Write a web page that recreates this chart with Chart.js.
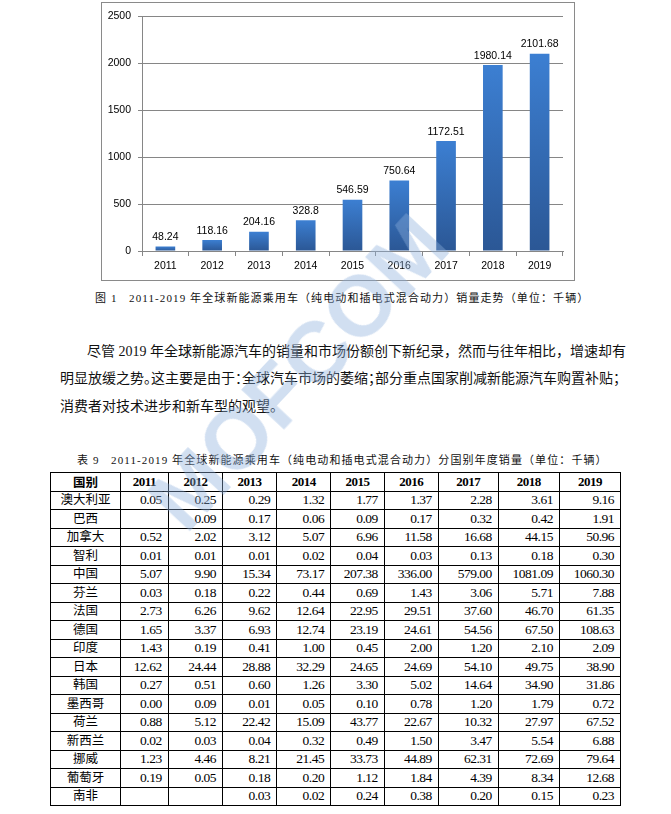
<!DOCTYPE html>
<html lang="zh-CN">
<head>
<meta charset="utf-8">
<title>全球新能源乘用车销量</title>
<script src="https://cdn.jsdelivr.net/npm/chart.js@4.4.1/dist/chart.umd.min.js"></script>
<style>
body {
  margin: 0;
  background: #fff;
  width: 671px;
  height: 814px;
  position: relative;
  overflow: hidden;
  font-family: "Liberation Serif", "Noto Sans CJK SC", serif;
  color: #000;
}
#chartBox {
  position: absolute;
  left: 101px;
  top: 2px;
  width: 474px;
  height: 279px;
  border: 1px solid #8a8a8a;
  box-sizing: border-box;
}
.cap {
  position: absolute;
  font-size: 11px;
  letter-spacing: 1.1px;
  white-space: nowrap;
  line-height: 14px;
  color: #111;
}
#cap1 { left: 95px; top: 291px; }
#cap2 { left: 77px; top: 453px; }
#para {
  position: absolute;
  left: 60px;
  top: 338px;
  width: 556px;
  font-size: 14px;
  line-height: 27.3px;
  color: #111;
}
#para div { text-align: justify; text-align-last: justify; white-space: nowrap; }
#para div.last { text-align-last: left; }
#para .l1 { padding-left: 27px; }
.h { font-feature-settings: "halt"; }
#tbl {
  position: absolute;
  left: 50px;
  top: 472px;
  border-collapse: collapse;
  table-layout: fixed;
  width: 571px;
}
#tbl tr { height: 18.5px; }
#tbl td, #tbl th {
  border: 1px solid #000;
  padding: 0 6px 0 0;
  text-align: right;
  font-size: 13.5px;
  letter-spacing: -0.5px;
  line-height: 16px;
  white-space: nowrap;
}
#tbl th { text-align: center; padding: 0; font-weight: bold; font-size: 13px; }
#tbl td.name { text-align: center; padding: 0; font-size: 12.5px; letter-spacing: 0; }
#mark {
  position: absolute;
  left: 298px;
  top: 372px;
  font: bold 86px "Liberation Sans", sans-serif;
  color: rgba(140, 175, 220, 0.4);
  transform: translate(-50%, -50%) rotate(-47deg);
  white-space: nowrap;
  pointer-events: none;
  z-index: 5;
}
</style>
</head>
<body>
<div id="chartBox"><canvas id="grafico"></canvas></div>
<div class="cap" id="cap1">图 1&nbsp;&nbsp;&nbsp;2011-2019 年全球新能源乘用车（纯电动和插电式混合动力）销量走势（单位：千辆）</div>
<div id="para">
  <div class="l1">尽管 2019 年全球新能源汽车的销量和市场份额创下新纪录，然而与往年相比，增速却有</div>
  <div>明显放缓之势<span class="h">。</span>这主要是由于<span class="h">：</span>全球汽车市场的萎缩<span class="h">；</span>部分重点国家削减新能源汽车购置补贴<span class="h">；</span></div>
  <div class="last">消费者对技术进步和新车型的观望。</div>
</div>
<div class="cap" id="cap2">表 9&nbsp;&nbsp;&nbsp;2011-2019 年全球新能源乘用车（纯电动和插电式混合动力）分国别年度销量（单位：千辆）</div>
<table id="tbl">
  <colgroup id="cols"></colgroup>
  <thead><tr id="cabecalho"></tr></thead>
  <tbody id="corpo"></tbody>
</table>
<div id="mark">MOFCOM</div>

<script>
// Anos e vendas globais (mil unidades)
const anos = ['2011', '2012', '2013', '2014', '2015', '2016', '2017', '2018', '2019'];
const vendas = [48.24, 118.16, 204.16, 328.8, 546.59, 750.64, 1172.51, 1980.14, 2101.68];
const ticksY = [0, 500, 1000, 1500, 2000, 2500];

// Tabela por país
const paises = ['澳大利亚', '巴西', '加拿大', '智利', '中国', '芬兰', '法国', '德国', '印度',
  '日本', '韩国', '墨西哥', '荷兰', '新西兰', '挪威', '葡萄牙', '南非'];
const australia = [0.05, 0.25, 0.29, 1.32, 1.77, 1.37, 2.28, 3.61, 9.16];
const brasil = [null, 0.09, 0.17, 0.06, 0.09, 0.17, 0.32, 0.42, 1.91];
const canada = [0.52, 2.02, 3.12, 5.07, 6.96, 11.58, 16.68, 44.15, 50.96];
const chile = [0.01, 0.01, 0.01, 0.02, 0.04, 0.03, 0.13, 0.18, 0.30];
const china = [5.07, 9.90, 15.34, 73.17, 207.38, 336.00, 579.00, 1081.09, 1060.30];
const finlandia = [0.03, 0.18, 0.22, 0.44, 0.69, 1.43, 3.06, 5.71, 7.88];
const franca = [2.73, 6.26, 9.62, 12.64, 22.95, 29.51, 37.60, 46.70, 61.35];
const alemanha = [1.65, 3.37, 6.93, 12.74, 23.19, 24.61, 54.56, 67.50, 108.63];
const india = [1.43, 0.19, 0.41, 1.00, 0.45, 2.00, 1.20, 2.10, 2.09];
const japao = [12.62, 24.44, 28.88, 32.29, 24.65, 24.69, 54.10, 49.75, 38.90];
const coreia = [0.27, 0.51, 0.60, 1.26, 3.30, 5.02, 14.64, 34.90, 31.86];
const mexico = [0.00, 0.09, 0.01, 0.05, 0.10, 0.78, 1.20, 1.79, 0.72];
const holanda = [0.88, 5.12, 22.42, 15.09, 43.77, 22.67, 10.32, 27.97, 67.52];
const novaZelandia = [0.02, 0.03, 0.04, 0.32, 0.49, 1.50, 3.47, 5.54, 6.88];
const noruega = [1.23, 4.46, 8.21, 21.45, 33.73, 44.89, 62.31, 72.69, 79.64];
const portugal = [0.19, 0.05, 0.18, 0.20, 1.12, 1.84, 4.39, 8.34, 12.68];
const africaSul = [null, null, 0.03, 0.02, 0.24, 0.38, 0.20, 0.15, 0.23];
const linhas = [australia, brasil, canada, chile, china, finlandia, franca, alemanha, india,
  japao, coreia, mexico, holanda, novaZelandia, noruega, portugal, africaSul];

// Montar a tabela
function montarTabela() {
  const larguras = [70, 47.6, 54.4, 54, 54, 53.6, 54, 60, 61, 61];
  document.getElementById('cols').innerHTML = larguras.map(w => `<col style="width:${w}px">`).join('');
  document.getElementById('cabecalho').innerHTML =
    '<th style="font-family:\'Noto Sans CJK SC\';font-size:12.5px;letter-spacing:0">国别</th>' +
    anos.map(a => `<th>${a}</th>`).join('');
  document.getElementById('corpo').innerHTML = paises.map((p, i) =>
    `<tr><td class="name">${p}</td>` +
    linhas[i].map(v => `<td>${v === null ? '' : v.toFixed(2)}</td>`).join('') + '</tr>'
  ).join('');
}

// Rótulos de valor acima das barras
const rotulos = {
  id: 'rotulos',
  afterDatasetsDraw(chart) {
    const ctx = chart.ctx;
    const meta = chart.getDatasetMeta(0);
    ctx.save();
    ctx.font = '10.5px "Liberation Sans"';
    ctx.fillStyle = '#000';
    ctx.textAlign = 'center';
    ctx.textBaseline = 'bottom';
    meta.data.forEach((bar, i) => {
      ctx.fillText(String(vendas[i]), bar.x, bar.y - 4);
    });
    ctx.restore();
  }
};

function desenharGrafico() {
  const ctx = document.getElementById('grafico').getContext('2d');
  new Chart(ctx, {
    type: 'bar',
    data: {
      labels: anos,
      datasets: [{
        data: vendas,
        backgroundColor: c => {
          const chart = c.chart;
          const y = chart.scales && chart.scales.y;
          if (!chart.chartArea || !y || c.raw === undefined) return '#3470bd';
          const topo = y.getPixelForValue(c.raw);
          const base = y.getPixelForValue(0);
          const g = chart.ctx.createLinearGradient(0, topo, 0, base);
          g.addColorStop(0, '#3c7fd2');
          g.addColorStop(1, '#2b5795');
          return g;
        },
        borderWidth: 0,
        barPercentage: 0.42,
        categoryPercentage: 1
      }]
    },
    options: {
      responsive: true,
      maintainAspectRatio: false,
      animation: false,
      layout: { padding: { top: 12, right: 11, left: 0, bottom: 0 } },
      plugins: {
        legend: { display: false },
        tooltip: { enabled: false }
      },
      scales: {
        x: {
          grid: { drawOnChartArea: false, color: '#868686', tickLength: 5 },
          border: { color: '#868686' },
          ticks: { color: '#000', font: { family: 'Liberation Sans', size: 10.5 }, padding: 4 },
          afterFit: s => { s.height = 29; }
        },
        y: {
          min: 0,
          max: 2500,
          afterBuildTicks: s => { s.ticks = ticksY.map(v => ({ value: v })); },
          grid: { color: '#868686', tickLength: 4 },
          border: { color: '#868686' },
          ticks: {
            color: '#000',
            font: { family: 'Liberation Sans', size: 10.5 },
            padding: 7,
            callback: v => String(v)
          },
          afterFit: s => { s.width = 40; }
        }
      }
    },
    plugins: [rotulos]
  });
}

window.onload = function() {
  montarTabela();
  desenharGrafico();
};
</script>
</body>
</html>
